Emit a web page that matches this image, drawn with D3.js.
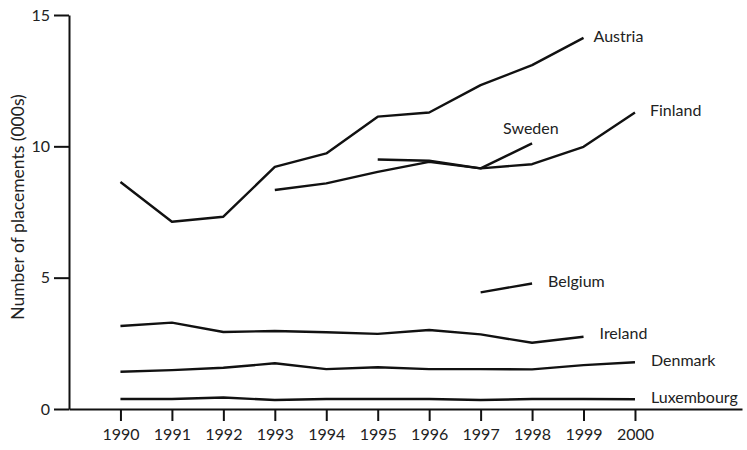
<!DOCTYPE html>
<html>
<head>
<meta charset="utf-8">
<script src="https://cdn.jsdelivr.net/npm/d3@7"></script>
<style>
  body { margin: 0; background: #fff; }
  svg text { font-family: Lato, "Open Sans", sans-serif; fill: #222; }
</style>
</head>
<body>
<div id="chart"></div>
<script>
// years on the x axis
var years = [1990, 1991, 1992, 1993, 1994, 1995, 1996, 1997, 1998, 1999, 2000];
var yTicks = [0, 5, 10, 15];

// placements (000s); null = no data
var austria    = [8.64, 7.13, 7.32, 9.22, 9.73, 11.13, 11.29, 12.33, 13.09, 14.13, null];
var finland    = [null, null, null, 8.34, 8.59, 9.03, 9.41, 9.16, 9.32, 9.98, 11.29];
var sweden     = [null, null, null, null, null, 9.50, 9.45, 9.16, 10.11, null, null];
var belgium    = [null, null, null, null, null, null, null, 4.44, 4.78, null, null];
var ireland    = [3.16, 3.29, 2.93, 2.97, 2.92, 2.86, 3.01, 2.84, 2.52, 2.75, null];
var denmark    = [1.42, 1.48, 1.57, 1.74, 1.52, 1.59, 1.52, 1.52, 1.51, 1.67, 1.78];
var luxembourg = [0.38, 0.38, 0.44, 0.34, 0.38, 0.38, 0.38, 0.34, 0.38, 0.38, 0.37];

var series = [
    {name: "Austria", values: austria},
    {name: "Finland", values: finland},
    {name: "Sweden", values: sweden},
    {name: "Belgium", values: belgium},
    {name: "Ireland", values: ireland},
    {name: "Denmark", values: denmark},
    {name: "Luxembourg", values: luxembourg}
];

// label offsets relative to last point (dx, dy)
var labelOffset = {
    "Austria":    [10, 0],
    "Finland":    [15, 0],
    "Sweden":     [-29, -13],
    "Belgium":    [16, 0],
    "Ireland":    [16, -2],
    "Denmark":    [16, 0],
    "Luxembourg": [16, 0]
};

var width = 747, height = 450;
var margin = {top: 15, right: 5, bottom: 41, left: 69};

var svg = d3.select("#chart")
    .append("svg")
    .attr("width", width)
    .attr("height", height);

var x = d3.scaleLinear()
    .domain([1989, 2002.08])
    .range([margin.left, width - margin.right]);

var y = d3.scaleLinear()
    .domain([0, 15])
    .range([height - margin.bottom, margin.top]);

// x axis
var xAxis = svg.append("g")
    .attr("transform", "translate(0," + y(0) + ")")
    .call(d3.axisBottom(x).tickValues(years).tickFormat(d3.format("d"))
        .tickSize(12).tickPadding(8).tickSizeOuter(0));
xAxis.select(".domain").attr("stroke", "#111").attr("stroke-width", 2);
xAxis.selectAll(".tick line").attr("stroke", "#111").attr("stroke-width", 2);
xAxis.selectAll(".tick text").attr("font-size", 16).attr("fill", "#222");

// y axis
var yAxis = svg.append("g")
    .attr("transform", "translate(" + margin.left + ",0)")
    .call(d3.axisLeft(y).tickValues(yTicks).tickSize(15).tickPadding(4).tickSizeOuter(0));
yAxis.select(".domain").attr("stroke", "#111").attr("stroke-width", 2);
yAxis.selectAll(".tick line").attr("stroke", "#111").attr("stroke-width", 2);
yAxis.selectAll(".tick text").attr("font-size", 16).attr("fill", "#222");

// y axis title
svg.append("text")
    .attr("transform", "translate(24," + 207 + ") rotate(-90)")
    .attr("text-anchor", "middle")
    .attr("font-size", 17.5)
    .text("Number of placements (000s)");

var line = d3.line()
    .defined(function(d) { return d != null; })
    .x(function(d, i) { return x(years[i]); })
    .y(function(d) { return y(d); });

svg.selectAll(".series")
    .data(series)
    .enter()
    .append("path")
    .attr("class", "series")
    .attr("fill", "none")
    .attr("stroke", "#111")
    .attr("stroke-width", 2.4)
    .attr("stroke-linejoin", "round")
    .attr("d", function(d) { return line(d.values); });

// labels next to the last point of each line
svg.selectAll(".label")
    .data(series)
    .enter()
    .append("text")
    .attr("class", "label")
    .attr("font-size", 16)
    .attr("dominant-baseline", "middle")
    .attr("x", function(d) {
        var last = d3.max(d.values.map(function(v, i) { return v == null ? -1 : i; }));
        return x(years[last]) + labelOffset[d.name][0];
    })
    .attr("y", function(d) {
        var last = d3.max(d.values.map(function(v, i) { return v == null ? -1 : i; }));
        return y(d.values[last]) + labelOffset[d.name][1];
    })
    .text(function(d) { return d.name; });
</script>
</body>
</html>
